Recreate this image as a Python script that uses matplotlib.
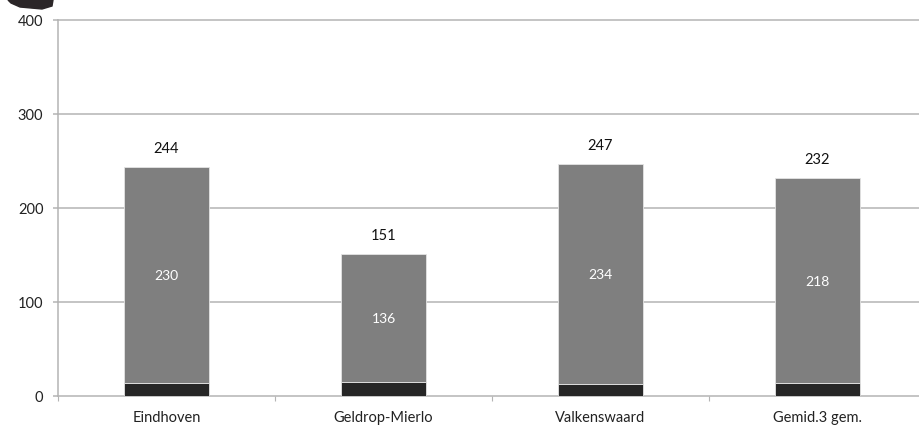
import matplotlib
matplotlib.use('Agg')
import matplotlib.pyplot as plt
from matplotlib.patches import Polygon

plt.rcParams['font.family'] = ['Lato', 'DejaVu Sans']

categories = ['Eindhoven', 'Geldrop-Mierlo', 'Valkenswaard', 'Gemid.3 gem.']
totals = [244, 151, 247, 232]
upper = [230, 136, 234, 218]
lower = [14, 15, 13, 14]
yticks = [0, 100, 200, 300, 400]

W, H = 920, 430
fig = plt.figure(figsize=(W / 100, H / 100), dpi=100)
ax = fig.add_axes([58 / W, 1 - 396 / H, (W - 58) / W, 376 / H])

grid = '#b4b4b4'
for y in yticks:
    ax.axhline(y, color=grid, lw=1.1, zorder=1, clip_on=False)

x = range(len(categories))
ax.bar(x, lower, width=0.396, color='#262626', edgecolor='#e4e4e4', linewidth=0.6, zorder=2)
ax.bar(x, upper, width=0.396, bottom=lower, color='#7f7f7f', edgecolor='#e4e4e4', linewidth=0.6, zorder=2)

for i in x:
    ax.text(i, totals[i] + 19, str(totals[i]), ha='center', va='center', fontsize=10.5, color='#111111')
    ax.annotate(str(upper[i]), (i, lower[i] + upper[i] / 2), xytext=(0, -1), textcoords='offset points',
                ha='center', va='center', fontsize=10, color='white', zorder=3)

ax.set_xlim(-0.5, (W - 58) / 217 - 0.5)
ax.set_ylim(0, 400)
ax.set_yticks(yticks)
ax.set_xticks([i - 0.5 for i in x])
ax.set_xticklabels([])
for i in x:
    ax.annotate(categories[i], (i, 0), xytext=(0, -16), xycoords='data', textcoords='offset points',
                ha='center', va='center', fontsize=10.5, color='#222222')

for s in ['top', 'right', 'bottom']:
    ax.spines[s].set_visible(False)
ax.spines['left'].set_color(grid)
ax.spines['left'].set_linewidth(1.1)
ax.tick_params(axis='y', length=3.5, width=1.1, color=grid, pad=7, labelsize=10.5, labelcolor='#222222')
ax.tick_params(axis='x', length=3.5, width=0.8, color=grid)

# dark picture fragment in the top left corner
fig.add_artist(Polygon([(8 / W, 1), (53 / W, 1), (52 / W, 1 - 6 / H), (42 / W, 1 - 9 / H),
                        (20 / W, 1 - 7 / H), (11 / W, 1 - 3 / H)],
                       closed=True, color='#2b2628', transform=fig.transFigure))

fig.savefig('out.png', dpi=100)
